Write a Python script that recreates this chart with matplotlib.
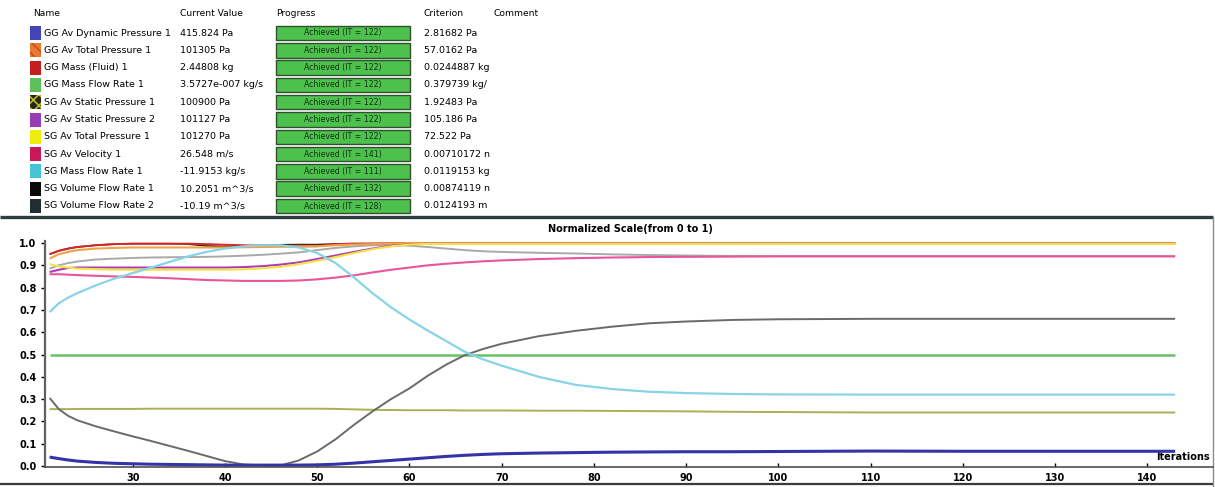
import matplotlib
matplotlib.use("Agg")
import matplotlib.pyplot as plt
from matplotlib.patches import Rectangle

W, H = 1215, 487

# ---- goal table ----
names = ["GG Av Dynamic Pressure 1", "GG Av Total Pressure 1", "GG Mass (Fluid) 1",
         "GG Mass Flow Rate 1", "SG Av Static Pressure 1", "SG Av Static Pressure 2",
         "SG Av Total Pressure 1", "SG Av Velocity 1", "SG Mass Flow Rate 1",
         "SG Volume Flow Rate 1", "SG Volume Flow Rate 2"]
current_values = ["415.824 Pa", "101305 Pa", "2.44808 kg", "3.5727e-007 kg/s", "100900 Pa",
                  "101127 Pa", "101270 Pa", "26.548 m/s", "-11.9153 kg/s",
                  "10.2051 m^3/s", "-10.19 m^3/s"]
achieved_it = [122, 122, 122, 122, 122, 122, 122, 141, 111, 132, 128]
criterion = ["2.81682 Pa", "57.0162 Pa", "0.0244887 kg", "0.379739 kg/", "1.92483 Pa",
             "105.186 Pa", "72.522 Pa", "0.00710172 n", "0.0119153 kg",
             "0.00874119 n", "0.0124193 m"]
swatch_colors = ["#4444b8", "#e87a30", "#c41e1e", "#5cc05c", "#262612", "#9a3cb4",
                 "#f0ec10", "#c8185a", "#48c4d8", "#0a0a0a", "#1e2e32"]

# ---- normalized goal history ----
iterations = [21, 22, 23, 24, 26, 28, 30, 32, 34, 36, 38, 40, 42, 44, 46, 48, 50, 52, 54,
              56, 58, 60, 62, 64, 66, 68, 70, 74, 78, 82, 86, 90, 95, 100, 110, 120, 130, 143]

dyn_pressure = [0.040, 0.033, 0.027, 0.022, 0.016, 0.012, 0.010, 0.008, 0.007, 0.006, 0.005,
                0.004, 0.004, 0.004, 0.004, 0.004, 0.005, 0.008, 0.013, 0.019, 0.025, 0.031,
                0.037, 0.043, 0.048, 0.052, 0.055, 0.058, 0.060, 0.062, 0.063, 0.064, 0.064,
                0.065, 0.067, 0.066, 0.066, 0.066]
gg_total_p = [0.930, 0.950, 0.960, 0.968, 0.975, 0.978, 0.980, 0.980, 0.980, 0.980, 0.980,
              0.980, 0.981, 0.982, 0.983, 0.984, 0.985, 0.990, 0.993, 0.995, 0.998, 1.0,
              1.0, 1.0, 1.0, 1.0, 1.0, 1.0, 1.0, 1.0, 1.0, 1.0, 1.0, 1.0, 1.0, 1.0, 1.0, 1.0]
gg_mass = [0.950, 0.965, 0.975, 0.982, 0.990, 0.995, 0.997, 0.997, 0.997, 0.997, 0.995,
           0.992, 0.990, 0.988, 0.986, 0.985, 0.986, 0.995, 0.997, 0.998, 0.999, 1.0,
           1.0, 1.0, 1.0, 1.0, 1.0, 1.0, 1.0, 1.0, 1.0, 1.0, 1.0, 1.0, 1.0, 1.0, 1.0, 1.0]
gg_mass_flow = [0.5] * len(iterations)
sg_static_p1 = [0.255, 0.255, 0.255, 0.256, 0.256, 0.256, 0.256, 0.257, 0.257, 0.257, 0.257,
                0.257, 0.257, 0.257, 0.257, 0.257, 0.257, 0.256, 0.254, 0.252, 0.251, 0.250,
                0.250, 0.250, 0.249, 0.249, 0.249, 0.248, 0.248, 0.247, 0.246, 0.245, 0.243,
                0.242, 0.240, 0.240, 0.240, 0.240]
sg_static_p2 = [0.870, 0.880, 0.888, 0.890, 0.890, 0.890, 0.890, 0.890, 0.890, 0.890, 0.890,
                0.890, 0.892, 0.896, 0.903, 0.913, 0.928, 0.944, 0.960, 0.975, 0.987, 0.994,
                0.997, 0.997, 0.997, 0.997, 0.997, 0.997, 0.997, 0.997, 0.997, 0.997, 0.997,
                0.997, 0.997, 0.997, 0.997, 0.997]
sg_total_p = [0.905, 0.895, 0.890, 0.885, 0.883, 0.880, 0.880, 0.880, 0.880, 0.880, 0.880,
              0.880, 0.882, 0.886, 0.893, 0.905, 0.920, 0.937, 0.955, 0.972, 0.985, 0.993,
              0.996, 0.996, 0.996, 0.996, 0.996, 0.996, 0.996, 0.996, 0.996, 0.996, 0.996,
              0.996, 0.996, 0.996, 0.996, 0.996]
sg_velocity = [0.860, 0.860, 0.858, 0.856, 0.853, 0.850, 0.848, 0.845, 0.842, 0.838, 0.834,
               0.832, 0.830, 0.830, 0.830, 0.832, 0.837, 0.845, 0.855, 0.868, 0.880, 0.890,
               0.900, 0.907, 0.913, 0.918, 0.922, 0.928, 0.932, 0.935, 0.937, 0.938, 0.939,
               0.940, 0.940, 0.940, 0.940, 0.940]
sg_mass_flow = [0.690, 0.730, 0.755, 0.775, 0.810, 0.840, 0.865, 0.890, 0.915, 0.940, 0.960,
                0.975, 0.985, 0.990, 0.990, 0.980, 0.955, 0.910, 0.845, 0.775, 0.712, 0.657,
                0.607, 0.560, 0.512, 0.478, 0.450, 0.400, 0.364, 0.345, 0.333, 0.327, 0.323,
                0.321, 0.320, 0.320, 0.320, 0.320]
sg_vol_flow1 = [0.950, 0.965, 0.975, 0.982, 0.990, 0.995, 0.997, 0.997, 0.997, 0.995, 0.987,
                0.984, 0.984, 0.990, 0.992, 0.993, 0.993, 0.996, 0.997, 0.996, 0.997, 0.998,
                0.998, 0.998, 0.998, 0.998, 0.998, 0.998, 0.998, 0.998, 0.998, 0.998, 0.998,
                0.998, 0.998, 0.998, 0.998, 0.998]
sg_vol_flow2 = [0.305, 0.255, 0.225, 0.205, 0.178, 0.155, 0.133, 0.112, 0.090, 0.068, 0.045,
                0.022, 0.007, 0.002, 0.002, 0.025, 0.065, 0.120, 0.185, 0.245, 0.300, 0.348,
                0.405, 0.455, 0.497, 0.525, 0.548, 0.582, 0.606, 0.625, 0.640, 0.648, 0.655,
                0.658, 0.660, 0.660, 0.660, 0.660]
light_gray = [0.885, 0.900, 0.910, 0.917, 0.926, 0.930, 0.933, 0.935, 0.936, 0.937, 0.938,
              0.940, 0.943, 0.947, 0.952, 0.958, 0.968, 0.978, 0.985, 0.990, 0.990, 0.988,
              0.982, 0.975, 0.968, 0.963, 0.960, 0.956, 0.953, 0.949, 0.946, 0.944, 0.942,
              0.941, 0.941, 0.941, 0.941, 0.941]

plt.rcParams["hatch.linewidth"] = 1.2
fig = plt.figure(figsize=(W / 100, H / 100), dpi=100)

# background layer in pixel coordinates for the table and frame lines
bg = fig.add_axes([0, 0, 1, 1])
bg.set_xlim(0, W)
bg.set_ylim(H, 0)
bg.axis("off")

hdr_kw = dict(fontsize=6.6, color="#000000", va="center")
bg.text(33, 13, "Name", **hdr_kw)
bg.text(180, 13, "Current Value", **hdr_kw)
bg.text(276, 13, "Progress", **hdr_kw)
bg.text(424, 13, "Criterion", **hdr_kw)
bg.text(494, 13, "Comment", **hdr_kw)

row_h = 17.3
for i, name in enumerate(names):
    yc = 33 + i * row_h
    hatch = None
    edge = swatch_colors[i]
    if i == 1:
        hatch, edge = "\\\\\\", "#c85020"
    elif i == 4:
        hatch, edge = "xxx", "#b8b830"
    bg.add_patch(Rectangle((30, yc - 7), 11, 14, facecolor=swatch_colors[i],
                           edgecolor=edge, hatch=hatch, lw=0))
    bg.text(44, yc, name, fontsize=6.8, color="#000000", va="center")
    bg.text(180, yc, current_values[i], fontsize=6.8, color="#000000", va="center")
    bg.add_patch(Rectangle((276, yc - 7.3), 134, 14.6, facecolor="#4cc24c",
                           edgecolor="#2f4f2f", lw=1.0))
    bg.text(343, yc, "Achieved (IT = %d)" % achieved_it[i], fontsize=5.6,
            color="#143014", ha="center", va="center")
    bg.text(424, yc, criterion[i], fontsize=6.8, color="#000000", va="center")

# frame lines
bg.plot([0, 1213], [217, 217], color="#2e3e3e", lw=2.4, solid_capstyle="butt")
bg.plot([0, 1213], [484, 484], color="#3a3a3a", lw=1.6, solid_capstyle="butt")
bg.plot([1213, 1213], [217, 487], color="#8a8a8a", lw=1.0)

bg.text(630, 229, "Normalized Scale(from 0 to 1)", fontsize=7, fontweight="bold",
        ha="center", va="center", color="#000000")
bg.text(1210, 457, "Iterations", fontsize=7, fontweight="bold",
        ha="right", va="center", color="#000000")

# ---- chart ----
ax = fig.add_axes([45 / W, 1 - 467 / H, (1213 - 45) / W, (467 - 241) / H])
ax.patch.set_alpha(0)
ax.set_xlim(20.5, 147.1)
ax.set_ylim(-0.0045, 1.009)

series = [
    (sg_vol_flow1, "#4a2a1a", 1.2),
    (light_gray, "#a8aaa8", 1.4),
    (sg_static_p1, "#a8b054", 1.4),
    (gg_mass_flow, "#66c466", 1.8),
    (gg_mass, "#d42828", 1.4),
    (gg_total_p, "#f0a24a", 1.5),
    (sg_static_p2, "#b03cb0", 1.5),
    (sg_total_p, "#f2e448", 1.5),
    (sg_velocity, "#e8559a", 1.5),
    (sg_vol_flow2, "#6a6a6a", 1.4),
    (sg_mass_flow, "#86d4e6", 1.6),
    (dyn_pressure, "#3434a8", 2.2),
]
for vals, col, lw in series:
    ax.plot(iterations, vals, color=col, lw=lw, clip_on=False, solid_capstyle="butt")

ax.set_xticks(range(30, 141, 10))
ax.set_yticks([i / 10 for i in range(11)])
ax.set_yticklabels(["%.1f" % (i / 10) for i in range(11)])
for lab in ax.get_xticklabels() + ax.get_yticklabels():
    lab.set_fontweight("bold")
ax.tick_params(axis="y", direction="out", length=3, width=1, pad=3,
               labelsize=7, colors="#000000")
ax.tick_params(axis="x", direction="in", length=3, width=1, pad=4,
               labelsize=7, colors="#000000")
for s in ("top", "right"):
    ax.spines[s].set_visible(False)
ax.spines["left"].set_color("#606060")
ax.spines["left"].set_linewidth(1.6)
ax.spines["bottom"].set_color("#505050")
ax.spines["bottom"].set_linewidth(1.2)

fig.savefig("out.png", dpi=100)
